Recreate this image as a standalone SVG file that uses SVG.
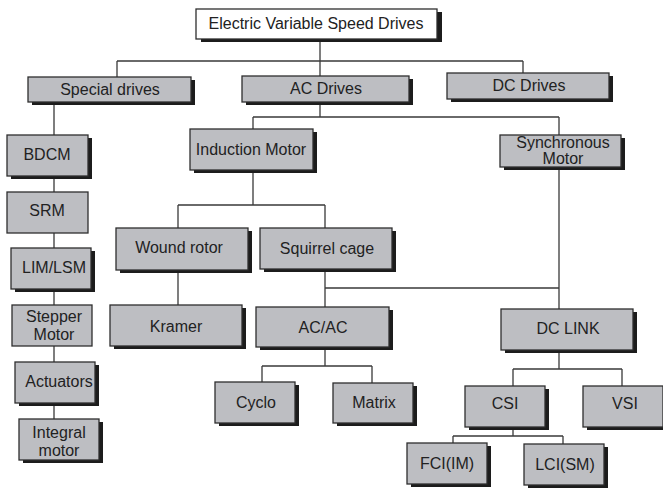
<svg xmlns="http://www.w3.org/2000/svg" width="663" height="488" viewBox="0 0 663 488">
<style>
.bx{fill:#bdbec2;stroke:#2e2e2e;stroke-width:1.3}
.wb{fill:#ffffff;stroke:#2e2e2e;stroke-width:1.3}
.sh{fill:#1c1c1c}
.t{font-family:"Liberation Sans",Arial,sans-serif;font-size:16px;fill:#222;text-anchor:middle}
.c{fill:none;stroke:#3a3a3a;stroke-width:1.3}
</style>
<rect width="663" height="488" fill="#fff"/>
<g id="connectors" class="c">
<path d="M320,39V61M117,61H523M117,61V77M320,61V76M523,61V73"/>
<path d="M320,102V117M253,117H559M253,117V129M559,117V135"/>
<path d="M54,102V135M54,176V192M54,233V248M54,289V305M54,346V362M54,403V419"/>
<path d="M253,170V205M178,205H325M178,205V228M325,205V228"/>
<path d="M178,270V305"/>
<path d="M325,269V307M325,288H559M559,167V309"/>
<path d="M325,347V366M262,366H372M262,366V382M372,366V383"/>
<path d="M559,350V369M513,369H622M513,369V386M622,369V386"/>
<path d="M513,427V436M453,436H563M453,436V443M563,436V444"/>
</g>
<g id="title"><rect class="sh" x="201" y="12" width="241" height="30"/><rect class="wb" x="196" y="9" width="241" height="30"/><text class="t" x="316" y="29">Electric Variable Speed Drives</text></g>
<g id="special"><rect class="sh" x="32" y="80" width="163" height="25"/><rect class="bx" x="28" y="77" width="163" height="25"/><text class="t" x="110" y="95">Special drives</text></g>
<g id="ac"><rect class="sh" x="246" y="79" width="167" height="26"/><rect class="bx" x="242" y="76" width="167" height="26"/><text class="t" x="326" y="94">AC Drives</text></g>
<g id="dc"><rect class="sh" x="451" y="76" width="162" height="26"/><rect class="bx" x="447" y="73" width="162" height="26"/><text class="t" x="529" y="91">DC Drives</text></g>
<g id="induction"><rect class="sh" x="194" y="132" width="123" height="41"/><rect class="bx" x="190" y="129" width="123" height="41"/><text class="t" x="251" y="155">Induction Motor</text></g>
<g id="synchronous"><rect class="sh" x="504" y="138" width="121" height="32"/><rect class="bx" x="500" y="135" width="121" height="32"/><text class="t" x="563" y="148">Synchronous</text><text class="t" x="563" y="164">Motor</text></g>
<g id="bdcm"><rect class="sh" x="11" y="138" width="81" height="41"/><rect class="bx" x="7" y="135" width="81" height="41"/><text class="t" x="47" y="160">BDCM</text></g>
<g id="srm"><rect class="bx" x="7" y="192" width="81" height="41"/><text class="t" x="47" y="216">SRM</text></g>
<g id="lim"><rect class="sh" x="15" y="251" width="80" height="41"/><rect class="bx" x="11" y="248" width="80" height="41"/><text class="t" x="54" y="273">LIM/LSM</text></g>
<g id="stepper"><rect class="bx" x="12" y="305" width="80" height="41"/><text class="t" x="54" y="322">Stepper</text><text class="t" x="54" y="340">Motor</text></g>
<g id="actuators"><rect class="sh" x="19" y="365" width="80" height="41"/><rect class="bx" x="15" y="362" width="80" height="41"/><text class="t" x="59" y="387">Actuators</text></g>
<g id="integral"><rect class="sh" x="23" y="422" width="80" height="41"/><rect class="bx" x="19" y="419" width="80" height="41"/><text class="t" x="59" y="438">Integral</text><text class="t" x="59" y="456">motor</text></g>
<g id="wound"><rect class="sh" x="120" y="231" width="132" height="42"/><rect class="bx" x="116" y="228" width="132" height="42"/><text class="t" x="179" y="253">Wound rotor</text></g>
<g id="squirrel"><rect class="sh" x="264" y="231" width="132" height="41"/><rect class="bx" x="260" y="228" width="132" height="41"/><text class="t" x="327" y="254">Squirrel cage</text></g>
<g id="kramer"><rect class="sh" x="114" y="308" width="132" height="41"/><rect class="bx" x="110" y="305" width="132" height="41"/><text class="t" x="176" y="332">Kramer</text></g>
<g id="acac"><rect class="sh" x="260" y="310" width="133" height="40"/><rect class="bx" x="256" y="307" width="133" height="40"/><text class="t" x="323" y="333">AC/AC</text></g>
<g id="dclink"><rect class="sh" x="505" y="312" width="132" height="41"/><rect class="bx" x="501" y="309" width="132" height="41"/><text class="t" x="568" y="334">DC LINK</text></g>
<g id="cyclo"><rect class="sh" x="219" y="385" width="80" height="41"/><rect class="bx" x="215" y="382" width="80" height="41"/><text class="t" x="256" y="408">Cyclo</text></g>
<g id="matrix"><rect class="sh" x="337" y="386" width="80" height="40"/><rect class="bx" x="333" y="383" width="80" height="40"/><text class="t" x="374" y="408">Matrix</text></g>
<g id="csi"><rect class="sh" x="469" y="389" width="80" height="41"/><rect class="bx" x="465" y="386" width="80" height="41"/><text class="t" x="505" y="409">CSI</text></g>
<g id="vsi"><rect class="sh" x="587" y="389" width="80" height="41"/><rect class="bx" x="583" y="386" width="80" height="41"/><text class="t" x="625" y="409">VSI</text></g>
<g id="fci"><rect class="sh" x="411" y="446" width="80" height="41"/><rect class="bx" x="407" y="443" width="80" height="41"/><text class="t" x="447" y="469">FCI(IM)</text></g>
<g id="lci"><rect class="sh" x="528" y="447" width="80" height="41"/><rect class="bx" x="524" y="444" width="80" height="41"/><text class="t" x="565" y="470">LCI(SM)</text></g>
</svg>
